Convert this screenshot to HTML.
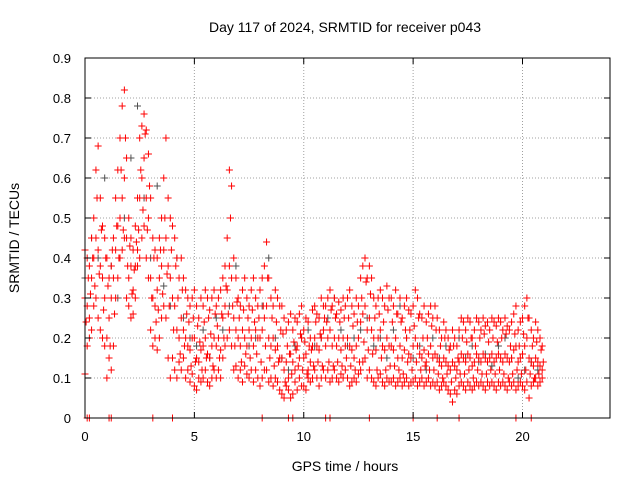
<!DOCTYPE html>
<html><head><meta charset="utf-8"><style>
html,body{margin:0;padding:0;background:#fff}
svg{display:block;font-family:"Liberation Sans",sans-serif}
</style></head><body>
<svg id="chart" width="640" height="480" viewBox="0 0 640 480">
<rect width="640" height="480" fill="#fff"/>
<text x="345" y="32" text-anchor="middle" font-size="14">Day 117 of 2024, SRMTID for receiver p043</text>
<text x="345" y="471" text-anchor="middle" font-size="14">GPS time / hours</text>
<text transform="translate(19,238) rotate(-90)" text-anchor="middle" font-size="14">SRMTID / TECUs</text>
<g id="grid"></g><g id="marks"></g><g id="axes"></g>
</svg>
<script>
const xTicks=[0,5,10,15,20];
const yTicks=[0,0.1,0.2,0.3,0.4,0.5,0.6,0.7,0.8,0.9];
const xStart=0, xStep=0.1, xOffset2=0.05;
const hiVals=[.42,.40,.38,.45,.50,.62,.68,.55,.48,.45, .40,.35,.38,.45,.55,.62,.70,.78,.82,.65, .50,.45,.42,.48,.55,.70,.73,.76,.72,.66, .55,.45,.42,.40,.45,.50,.60,.70,.55,.50, .48,.45,.40,.35,.40,.35,.32,.30,.28,.30, .32,.28,.25,.30,.28,.32,.30,.27,.30,.32, .28,.30,.32,.35,.38,.45,.62,.58,.40,.35, .30,.28,.32,.35,.30,.28,.32,.35,.30,.28, .32,.35,.38,.44,.35,.30,.28,.32,.30,.28, .28,.25,.22,.24,.26,.22,.25,.24,.26,.28, .22,.25,.24,.20,.27,.28,.26,.25,.30,.28, .28,.30,.32,.28,.30,.26,.29,.27,.30,.28, .30,.32,.28,.26,.30,.28,.35,.38,.40,.35, .38,.35,.30,.28,.30,.32,.30,.28,.33,.30, .30,.28,.32,.26,.30,.25,.28,.30,.27,.26, .28,.32,.30,.26,.25,.28,.24,.26,.28,.25, .28,.25,.22,.20,.24,.22,.20,.18,.22,.20, .18,.22,.25,.24,.22,.25,.24,.20,.22,.25, .24,.22,.25,.23,.24,.22,.25,.24,.23,.25, .24,.22,.25,.23,.22,.24,.26,.28,.22,.24, .25,.28,.30,.25,.22,.20,.24,.22,.20,.18];
const midVals=[.30,.28,.25,.35,.40,.45,.42,.38,.35,.30, .20,.25,.30,.35,.42,.48,.50,.55,.60,.45, .35,.38,.32,.38,.42,.55,.60,.65,.55,.50, .35,.30,.28,.32,.35,.38,.42,.45,.38,.35, .30,.28,.22,.20,.25,.22,.20,.18,.17,.20, .20,.15,.14,.17,.18,.20,.16,.15,.18,.20, .18,.20,.17,.25,.28,.32,.38,.35,.25,.22, .20,.18,.22,.20,.18,.22,.20,.18,.22,.20, .20,.22,.25,.28,.20,.18,.20,.17,.18,.15, .15,.12,.14,.10,.16,.14,.12,.18,.15,.20, .15,.16,.12,.14,.18,.20,.18,.17,.20,.22, .18,.20,.22,.18,.20,.18,.20,.17,.20,.18, .20,.18,.17,.15,.18,.20,.24,.26,.28,.22, .25,.22,.20,.17,.20,.22,.18,.17,.20,.18, .18,.17,.20,.15,.18,.15,.17,.20,.16,.15, .18,.20,.18,.16,.15,.17,.14,.16,.18,.15, .16,.15,.14,.13,.15,.14,.13,.12,.14,.13, .12,.14,.16,.15,.14,.16,.15,.13,.14,.16, .15,.14,.16,.15,.14,.15,.16,.14,.15,.16, .15,.14,.16,.15,.14,.15,.17,.18,.14,.15, .16,.18,.20,.15,.14,.13,.15,.14,.13,.12];
const loVals=[.11,.18,.20,.22,.28,.30,.25,.22,.20,.18, .10,.15,.12,.18,.30,.35,.40,.42,.45,.30, .28,.25,.26,.30,.38,.40,.45,.48,.40,.35, .22,.18,.20,.17,.20,.25,.28,.25,.15,.10, .15,.12,.10,.14,.12,.15,.10,.12,.09,.11, .08,.07,.10,.09,.10,.12,.09,.08,.10,.12, .10,.12,.10,.15,.18,.20,.22,.18,.12,.13, .10,.12,.09,.13,.11,.10,.12,.09,.12,.10, .08,.10,.12,.12,.09,.10,.08,.10,.09,.07, .06,.05,.08,.07,.05,.06,.09,.07,.10,.08, .08,.07,.10,.09,.10,.12,.10,.08,.10,.12, .10,.12,.09,.10,.12,.10,.09,.11,.10,.12, .10,.08,.09,.10,.09,.11,.12,.14,.15,.10, .12,.10,.09,.08,.10,.11,.09,.08,.10,.09, .09,.10,.08,.09,.10,.08,.09,.10,.08,.09, .09,.10,.08,.09,.10,.08,.09,.10,.08,.09, .08,.09,.07,.08,.09,.08,.07,.06,.04,.07, .06,.08,.09,.08,.07,.09,.08,.07,.08,.09, .08,.09,.08,.07,.09,.08,.09,.08,.07,.09, .08,.09,.08,.07,.09,.08,.09,.07,.08,.09, .08,.07,.09,.05,.08,.09,.10,.08,.09,.10];
const extraVals=[.24,.35,.31,.40,.33,.55,.36,.47,.27,.40, .33,.18,.42,.26,.48,.40,.62,.47,.70,.38, .43,.31,.37,.44,.47,.62,.52,.71,.47,.58, .30,.40,.24,.27,.42,.31,.50,.36,.28,.42, .22,.38,.30,.16,.32,.18,.26,.24,.13,.25, .14,.23,.19,.12,.24,.15,.25,.21,.13,.26, .23,.15,.26,.20,.33,.26,.50,.28,.18,.29, .25,.14,.27,.16,.25,.15,.27,.24,.16,.25, .14,.28,.18,.35,.15,.25,.13,.24,.14,.22, .21,.09,.18,.16,.11,.19,.17,.13,.21,.12, .19,.11,.18,.17,.13,.24,.14,.21,.13,.25, .24,.14,.27,.13,.25,.14,.24,.13,.25,.15, .25,.13,.23,.12,.24,.14,.30,.19,.34,.17, .31,.16,.25,.12,.26,.15,.24,.12,.27,.13, .24,.13,.26,.12,.24,.11,.22,.14,.22,.12, .23,.14,.25,.12,.20,.13,.20,.12,.23,.12, .22,.11,.18,.10,.20,.11,.17,.09,.18,.10, .15,.11,.20,.11,.19,.12,.20,.10,.18,.12, .20,.11,.21,.11,.19,.12,.20,.11,.19,.12, .20,.11,.21,.10,.18,.11,.21,.12,.18,.11, .21,.12,.25,.11,.18,.10,.19,.11,.17,.14];
const grayStep=0.3;
const grayVals=[.35,.45,.40,.60,.38,.30,.50,.65,.78,.55,.40,.58,.33,.28,.40,.25,.20,.18,.22,.15,.25,.22,.28,.38,.22,.18,.20,.28,.40,.20,.15,.12,.18,.20,.22,.18,.20,.25,.30,.22,.18,.20,.22,.25,.18,.20,.15,.22,.28,.20,.15,.18,.12,.20,.15,.18,.14,.20,.15,.18,.14,.16,.13,.18,.20,.15,.10,.12,.14,.12];
const zeroTimes=[0.1,0.2,1.1,1.2,3.1,4.0,8.1,9.3,9.5,11.0,11.2,13.0,15.0,16.1,17.1,19.7,20.4];

const L=85,R=610,T=58,B=418,XMAX=24,YMAX=0.9;
const sx=v=>L+(v/XMAX)*(R-L);
const sy=v=>B-(v/YMAX)*(B-T);
const NS="http://www.w3.org/2000/svg";
function mk(tag,attrs,parent){const e=document.createElementNS(NS,tag);for(const k in attrs)e.setAttribute(k,attrs[k]);parent.appendChild(e);return e;}
const grid=document.getElementById('grid'),marks=document.getElementById('marks'),axes=document.getElementById('axes');
xTicks.forEach(t=>{
  if(t>0){const g=mk('line',{x1:sx(t),x2:sx(t),y1:T,y2:B,stroke:'#a0a0a0','stroke-dasharray':'1,2'},grid);
  
  }
  const tl=mk('text',{x:sx(t),y:B+23,'text-anchor':'middle','font-size':'13'},axes);tl.textContent=t;
  
  
  mk('line',{x1:sx(t),x2:sx(t),y1:B,y2:B-6,stroke:'#000'},axes);
  mk('line',{x1:sx(t),x2:sx(t),y1:T,y2:T+6,stroke:'#000'},axes);
});
yTicks.forEach(t=>{
  if(t>0&&t<YMAX-1e-9){const g=mk('line',{x1:L,x2:R,y1:sy(t),y2:sy(t),stroke:'#a0a0a0','stroke-dasharray':'1,2'},grid);
  
  }
  const tl=mk('text',{x:L-14,y:sy(t)+5,'text-anchor':'end','font-size':'13'},axes);tl.textContent=(t===0?'0':t.toFixed(1));
  
  
  mk('line',{x1:L,x2:L+6,y1:sy(t),y2:sy(t),stroke:'#000'},axes);
  mk('line',{x1:R,x2:R-6,y1:sy(t),y2:sy(t),stroke:'#000'},axes);
});
const frame=mk('rect',{x:L,y:T,width:R-L,height:B-T,fill:'none',stroke:'#000'},axes);


function plus(x,y,c,name){
  const p=mk('path',{d:`M${x-3.5},${y}h7M${x},${y-3.5}v7`,stroke:c,'stroke-width':'1',fill:'none'},marks);
  
  
}
grayVals.forEach((v,i)=>plus(sx(xStart+i*grayStep),sy(v),'#505050','gray-point'));
[hiVals,midVals,loVals].forEach(arr=>arr.forEach((v,i)=>plus(sx(xStart+i*xStep),sy(v),'#ff0000','srmtid-point')));
extraVals.forEach((v,i)=>plus(sx(xStart+xOffset2+i*xStep),sy(v),'#ff0000','srmtid-point'));
zeroTimes.forEach(t=>plus(sx(t),sy(0),'#ff0000','zero-point'));
</script>
</body></html>
